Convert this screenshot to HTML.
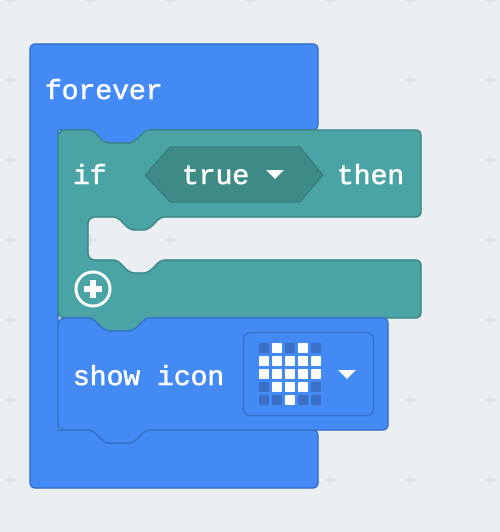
<!DOCTYPE html>
<html><head><style>
html,body{margin:0;padding:0;background:#eceff1;}
svg{display:block}
text{font-family:"Liberation Mono",monospace;fill:#fff;font-size:28px;stroke:#fff;stroke-width:0.6;}
</style></head><body>
<svg width="500" height="532" viewBox="0 0 500 532">
<rect width="500" height="532" fill="#eceff1"/>
<g stroke="#d4d8db" stroke-width="1">
<path d="M490 -6 V6 M484 0 H496 M490 74 V86 M484 80 H496 M490 154 V166 M484 160 H496 M490 234 V246 M484 240 H496 M490 314 V326 M484 320 H496 M490 394 V406 M484 400 H496 M490 474 V486 M484 480 H496"/>
<path d="M410 474 V486 M404 480 H416 M410 394 V406 M404 400 H416 M410 -6 V6 M404 0 H416 M410 74 V86 M404 80 H416 M330 474 V486 M324 480 H336"/>
<path d="M10 -6 V6 M4 0 H16 M10 74 V86 M4 80 H16 M10 154 V166 M4 160 H16 M10 234 V246 M4 240 H16 M10 314 V326 M4 320 H16 M10 394 V406 M4 400 H16 M10 474 V486 M4 480 H16"/>
<path d="M90 -6 V6 M84 0 H96 M170 -6 V6 M164 0 H176 M250 -6 V6 M244 0 H256 M330 -6 V6 M324 0 H336"/>
</g>
<!-- forever -->
<path d="M36 44 H312 Q318 44 318 50 V124 Q318 130 312 130 H150 Q145 130 140 136 Q134 143 128 143 H110 Q104 143 98 136 Q93 130 88 130 H58 V430 H88 Q93 430 98 436 Q104 443 110 443 H128 Q134 443 140 436 Q145 430 150 430 H312 Q318 430 318 436 V482 Q318 488 312 488 H36 Q30 488 30 482 V50 Q30 44 36 44 Z" fill="#448AF5" stroke="#3571c9" stroke-width="1.5"/>
<text x="45" y="99">forever</text>
<!-- if -->
<path d="M66 130 H88 Q93 130 98 136 Q104 143 110 143 H128 Q134 143 140 136 Q145 130 150 130 H415 Q421 130 421 136 V211 Q421 217 415 217 H165 Q160 217 155 223 Q149 230 143 230 H135 Q129 230 123 223 Q118 217 113 217 H96 Q88 217 88 225 V252 Q88 260 96 260 H113 Q118 260 123 266 Q129 273 135 273 H143 Q149 273 155 266 Q160 260 165 260 H415 Q421 260 421 266 V312 Q421 318 415 318 H150 Q145 318 140 324 Q134 331 128 331 H110 Q104 331 98 324 Q93 318 88 318 H66 Q58 318 58 310 V138 Q58 130 66 130 Z" fill="#4AA3A5" stroke="#3b8688" stroke-width="1.5"/>
<g stroke="#d4d8db" stroke-width="1"><path d="M170 234 V246 M164 240 H176 M90 234 V246 M89 240 H96"/></g>
<text x="73" y="184">if</text>
<path d="M145 175 L170 147 H300 L323 175 L300 202 H170 Z" fill="#3d8a87" stroke="#357774" stroke-width="1"/>
<text x="182" y="184">true</text>
<path d="M266 170 H284 L275 179 Z" fill="#fff"/>
<text x="337" y="184">then</text>
<circle cx="93" cy="289" r="17" fill="none" stroke="#fff" stroke-width="3"/>
<path d="M93 280 V298 M84 289 H102" stroke="#fff" stroke-width="6"/>
<!-- show icon -->
<path d="M66 318 H88 Q93 318 98 324 Q104 331 110 331 H128 Q134 331 140 324 Q145 318 150 318 H382 Q388 318 388 324 V424 Q388 430 382 430 H150 Q145 430 140 436 Q134 443 128 443 H110 Q104 443 98 436 Q93 430 88 430 H66 Q58 430 58 422 V326 Q58 318 66 318 Z" fill="#448AF5" stroke="#3571c9" stroke-width="1.5"/>
<text x="73" y="385">show icon</text>
<rect x="243.5" y="332.5" width="130" height="83" rx="7" fill="#448AF5" stroke="#3571c9" stroke-width="1.5"/>
<g>
<rect x="259" y="343" width="10" height="10" rx="1" fill="#3a6fc7"/><rect x="272" y="343" width="10" height="10" rx="1" fill="#fff"/><rect x="285" y="343" width="10" height="10" rx="1" fill="#3a6fc7"/><rect x="298" y="343" width="10" height="10" rx="1" fill="#fff"/><rect x="311" y="343" width="10" height="10" rx="1" fill="#3a6fc7"/>
<rect x="259" y="356" width="10" height="10" rx="1" fill="#fff"/><rect x="272" y="356" width="10" height="10" rx="1" fill="#fff"/><rect x="285" y="356" width="10" height="10" rx="1" fill="#fff"/><rect x="298" y="356" width="10" height="10" rx="1" fill="#fff"/><rect x="311" y="356" width="10" height="10" rx="1" fill="#fff"/>
<rect x="259" y="369" width="10" height="10" rx="1" fill="#fff"/><rect x="272" y="369" width="10" height="10" rx="1" fill="#fff"/><rect x="285" y="369" width="10" height="10" rx="1" fill="#fff"/><rect x="298" y="369" width="10" height="10" rx="1" fill="#fff"/><rect x="311" y="369" width="10" height="10" rx="1" fill="#fff"/>
<rect x="259" y="382" width="10" height="10" rx="1" fill="#3a6fc7"/><rect x="272" y="382" width="10" height="10" rx="1" fill="#fff"/><rect x="285" y="382" width="10" height="10" rx="1" fill="#fff"/><rect x="298" y="382" width="10" height="10" rx="1" fill="#fff"/><rect x="311" y="382" width="10" height="10" rx="1" fill="#3a6fc7"/>
<rect x="259" y="395" width="10" height="10" rx="1" fill="#3a6fc7"/><rect x="272" y="395" width="10" height="10" rx="1" fill="#3a6fc7"/><rect x="285" y="395" width="10" height="10" rx="1" fill="#fff"/><rect x="298" y="395" width="10" height="10" rx="1" fill="#3a6fc7"/><rect x="311" y="395" width="10" height="10" rx="1" fill="#3a6fc7"/>
</g>
<path d="M338 370 H356 L347 379 Z" fill="#fff"/>
</svg>
</body></html>
